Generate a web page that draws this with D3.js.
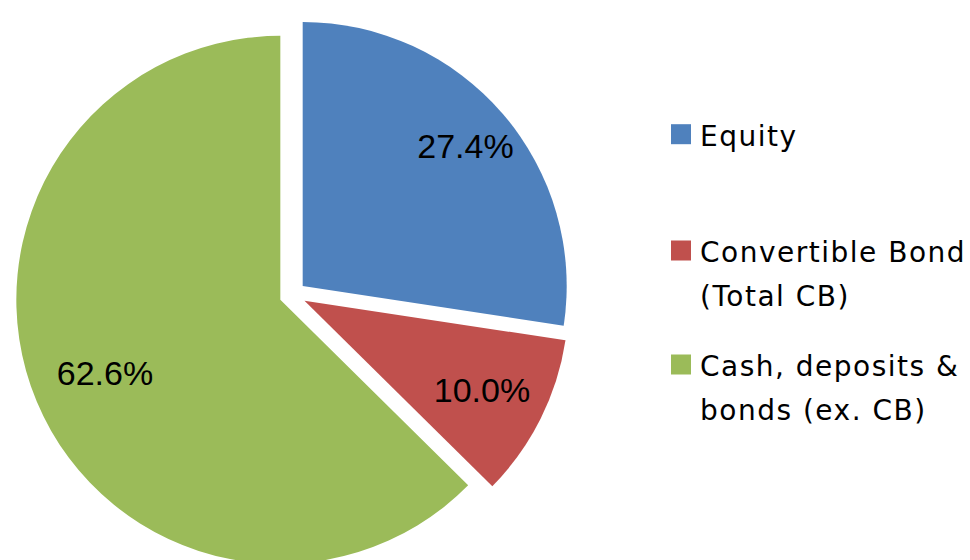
<!DOCTYPE html>
<html>
<head>
<meta charset="utf-8">
<script src="https://cdn.jsdelivr.net/npm/d3@7"></script>
<style>
  body { margin: 0; background: #fff; }
  .pct { font-family: "Liberation Sans", Arial, sans-serif; font-size: 34px; fill: #000; }
  .leg { font-family: "DejaVu Sans", sans-serif; font-size: 28px; letter-spacing: 1.5px; fill: #000; }
</style>
</head>
<body>
<div class="chart-container"></div>
<script>
var categories = ["Equity", "Convertible Bond (Total CB)", "Cash, deposits & bonds (ex. CB)"];
var legendLines = [["Equity"], ["Convertible Bond", "(Total CB)"], ["Cash, deposits &", "bonds (ex. CB)"]];
var shares = [27.4, 10.0, 62.6];
var colors = ["#4F81BD", "#C0504D", "#9BBB59"];

var width = 970, height = 560;
var cx = 292.6, cy = 294.7, radius = 264, explode = 13.3;
// excel "best fit" label distances, fraction of radius
var labelFrac = [0.813, 0.752, 0.72];

var svg = d3.select(".chart-container")
    .append("svg")
    .attr("width", width)
    .attr("height", height);

var pie = d3.pie().sort(null).value(function (d) { return d; });
var arc = d3.arc().innerRadius(0).outerRadius(radius);

var arcs = pie(shares);

var pieG = svg.append("g")
    .attr("transform", "translate(" + cx + "," + cy + ")");

var slices = pieG.selectAll(".slice")
    .data(arcs)
    .enter().append("g")
    .attr("class", "slice")
    .attr("transform", function (d) {
        var a = (d.startAngle + d.endAngle) / 2;
        return "translate(" + (Math.sin(a) * explode) + "," + (-Math.cos(a) * explode) + ")";
    });

slices.append("path")
    .attr("d", arc)
    .attr("fill", function (d, i) { return colors[i]; });

slices.append("text")
    .attr("class", "pct")
    .attr("text-anchor", "middle")
    .attr("dy", "0.35em")
    .attr("x", function (d, i) {
        var a = (d.startAngle + d.endAngle) / 2;
        return Math.sin(a) * radius * labelFrac[i];
    })
    .attr("y", function (d, i) {
        var a = (d.startAngle + d.endAngle) / 2;
        return -Math.cos(a) * radius * labelFrac[i];
    })
    .text(function (d) { return d3.format(".1f")(d.data) + "%"; });

// legend
var legendY = [145.7, 262, 376];
var legend = svg.append("g").attr("class", "legend");

var items = legend.selectAll(".item")
    .data(categories)
    .enter().append("g")
    .attr("class", "item");

items.append("rect")
    .attr("x", 671)
    .attr("y", function (d, i) { return legendY[i] - 21.5; })
    .attr("width", 20)
    .attr("height", 20)
    .attr("fill", function (d, i) { return colors[i]; });

items.each(function (d, i) {
    var t = d3.select(this).append("text")
        .attr("class", "leg")
        .attr("x", 700)
        .attr("y", legendY[i]);
    legendLines[i].forEach(function (line, j) {
        t.append("tspan")
            .attr("x", 700)
            .attr("y", legendY[i] + j * 44)
            .text(line);
    });
});
</script>
</body>
</html>
